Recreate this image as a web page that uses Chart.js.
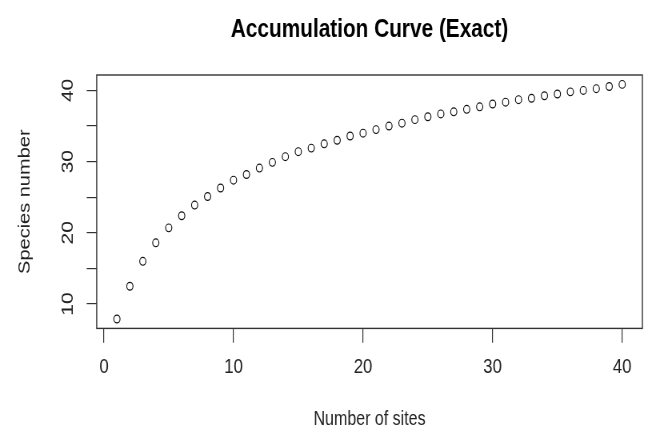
<!DOCTYPE html>
<html>
<head>
<meta charset="utf-8">
<script src="https://cdn.jsdelivr.net/npm/chart.js@4/dist/chart.umd.min.js"></script>
<style>
  html, body { margin: 0; padding: 0; background: #fff; overflow: hidden; }
  /* the plot is laid out on a wider canvas and narrowed horizontally */
  #wrap { width: 811px; height: 434px; transform: scaleX(0.8); transform-origin: 0 0; }
  #c { display: block; }
</style>
</head>
<body>
<div id="wrap"><canvas id="c" width="811" height="434"></canvas></div>
<script>
// Species accumulation: number of sites vs. expected species count
const sites = [1, 2, 3, 4, 5, 6, 7, 8, 9, 10,
               11, 12, 13, 14, 15, 16, 17, 18, 19, 20,
               21, 22, 23, 24, 25, 26, 27, 28, 29, 30,
               31, 32, 33, 34, 35, 36, 37, 38, 39, 40];
const species = [7.9, 12.5, 16.0, 18.6, 20.7, 22.4, 23.9, 25.1, 26.3, 27.4,
                 28.2, 29.1, 29.9, 30.7, 31.4, 31.9, 32.5, 33.0, 33.6, 34.0,
                 34.5, 35.0, 35.4, 35.9, 36.3, 36.7, 37.0, 37.35, 37.7, 38.1,
                 38.35, 38.7, 38.9, 39.25, 39.5, 39.8, 40.0, 40.25, 40.55, 40.85];
const xTickLabels = [0, 10, 20, 30, 40];
const yTickLabels = [10, 20, 30, 40];

// base-graphics style axis range: data range widened by 4% on each side
function paddedRange(arr) {
  const lo = Math.min(...arr), hi = Math.max(...arr);
  const d = (hi - lo) * 0.04;
  return [lo - d, hi + d];
}
const xRange = paddedRange(sites);
const yRange = paddedRange(species);

const points = sites.map((s, i) => ({ x: s, y: species[i] }));

Chart.defaults.font.family = "'Liberation Sans', Arial, sans-serif";
Chart.defaults.color = '#222';

// frame around the plotting region
const boxPlugin = {
  id: 'plotBox',
  afterDatasetsDraw(chart) {
    const { ctx, chartArea: a } = chart;
    ctx.save();
    ctx.strokeStyle = '#333';
    ctx.lineWidth = 1.4;
    ctx.strokeRect(a.left, a.top, a.right - a.left, a.bottom - a.top);
    ctx.restore();
  }
};

new Chart(document.getElementById('c'), {
  type: 'scatter',
  data: {
    datasets: [{
      data: points,
      pointStyle: 'circle',
      pointRadius: 3.9,
      pointHoverRadius: 3.9,
      borderWidth: 1.15,
      borderColor: '#111',
      backgroundColor: 'rgba(0,0,0,0)',
      showLine: false
    }]
  },
  options: {
    responsive: false,
    animation: false,
    events: [],
    layout: { padding: { left: 0, right: 8, top: 0, bottom: 0 } },
    plugins: {
      legend: { display: false },
      tooltip: { enabled: false },
      title: {
        display: true,
        text: 'Accumulation Curve (Exact)',
        fullSize: false,
        color: '#000',
        font: { size: 26, weight: 'bold' },
        padding: { top: 14.5, bottom: 29.3 }
      }
    },
    scales: {
      x: {
        type: 'linear',
        position: 'bottom',
        min: xRange[0],
        max: xRange[1],
        border: { display: false },
        grid: { drawOnChartArea: false, drawTicks: true, tickLength: 14.4, color: '#333', lineWidth: 1.2 },
        ticks: {
          stepSize: 10,
          includeBounds: false,
          autoSkip: false,
          maxRotation: 0,
          padding: 12,
          color: '#222',
          font: { size: 21 },
          callback: v => xTickLabels.includes(v) ? String(v) : ''
        },
        title: {
          display: true,
          text: 'Number of sites',
          color: '#222',
          font: { size: 20 },
          padding: { top: 15.5, bottom: 2.5 }
        }
      },
      y: {
        type: 'linear',
        position: 'left',
        min: yRange[0],
        max: yRange[1],
        border: { display: false },
        grid: { drawOnChartArea: false, drawTicks: true, tickLength: 12.5, color: '#333', lineWidth: 1.2 },
        ticks: {
          stepSize: 5,
          includeBounds: false,
          autoSkip: false,
          minRotation: 90,
          maxRotation: 90,
          crossAlign: 'center',
          padding: 12,
          color: '#222',
          font: { size: 21 },
          callback: v => yTickLabels.includes(v) ? String(v) : ''
        },
        title: {
          display: true,
          text: 'Species number',
          color: '#222',
          font: { size: 20 },
          padding: { top: 19.9, bottom: 15.3 }
        }
      }
    }
  },
  plugins: [boxPlugin]
});
</script>
</body>
</html>
